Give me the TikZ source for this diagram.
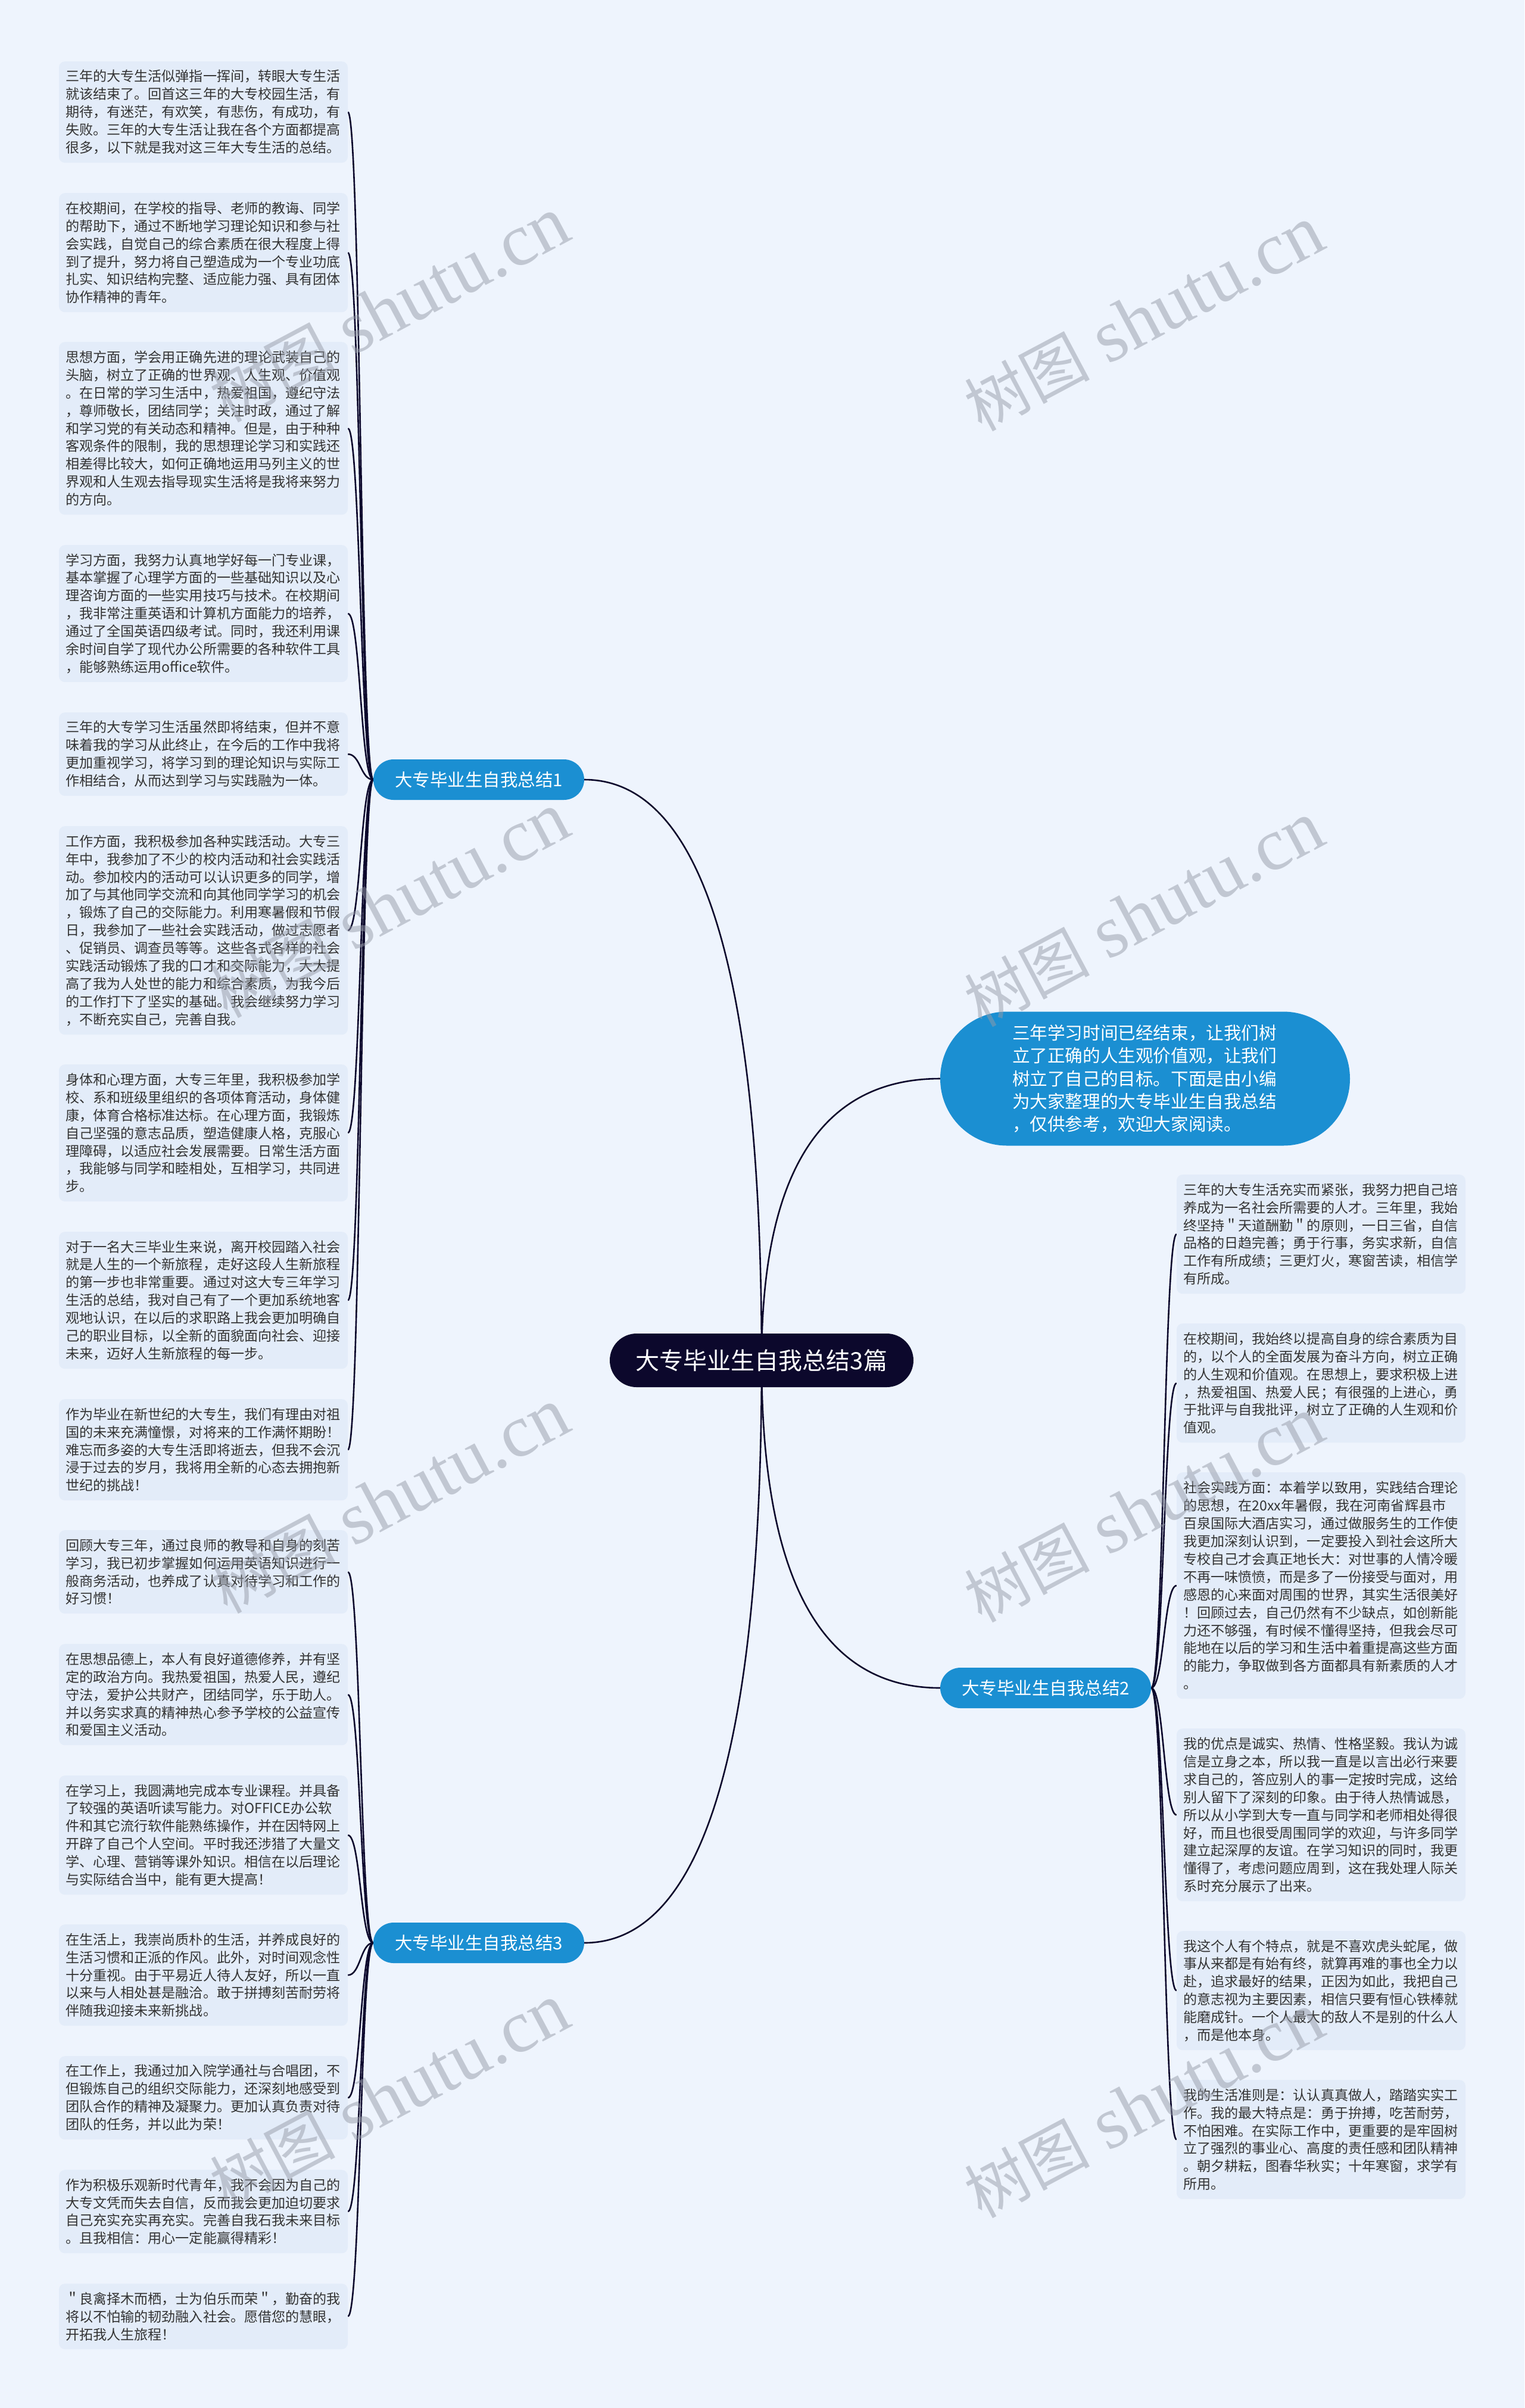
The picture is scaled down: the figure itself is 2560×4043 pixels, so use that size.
\documentclass[tikz,border=0pt]{standalone}
\usepackage{fontspec}
\setmainfont{Noto Sans CJK SC}
\newfontfamily\wmlat{Liberation Serif}
\usetikzlibrary{calc}
\pgfdeclarelayer{back}
\pgfdeclarelayer{lines}
\pgfsetlayers{back,lines,main}
\definecolor{pagebg}{RGB}{238,244,253}
\definecolor{boxbg}{RGB}{227,236,249}
\definecolor{txt}{RGB}{51,51,51}
\definecolor{blueone}{RGB}{27,143,210}
\definecolor{navy}{RGB}{12,8,44}
\definecolor{wmgray}{RGB}{150,156,168}
\tikzset{
  leaf/.style={fill=boxbg, rounded corners=10pt, text=txt, align=left,
    text width=463pt, inner xsep=11pt, inner ysep=0pt, anchor=north,
    font=\fontsize{23.1pt}{29.9pt}\selectfont},
  branchnode/.style={fill=blueone, text=white, rounded corners=34pt,
    minimum width=354pt, minimum height=68pt, inner sep=0pt,
    font=\fontsize{29.5pt}{36pt}\selectfont},
  rootnode/.style={fill=navy, text=white, rounded corners=45pt,
    minimum width=510pt, minimum height=90pt, inner sep=0pt,
    font=\fontsize{40pt}{48pt}\selectfont},
  intronode/.style={fill=blueone, text=white, rounded corners=112pt,
    minimum width=688pt, minimum height=225pt, inner sep=0pt,
    text width=446pt, align=left, font=\fontsize{29.6pt}{38.3pt}\selectfont},
  conn/.style={draw=navy, line width=2.6pt},
  wm/.style={rotate=28, text=wmgray, text opacity=0.5, inner sep=0pt, anchor=east}
}
\newcommand{\wmtext}{{\fontsize{105pt}{105pt}\selectfont 树图}\hspace{30pt}{\wmlat\fontsize{125pt}{125pt}\selectfont shutu.cn}}
\begin{document}
\begin{tikzpicture}[x=1pt,y=-1pt]
\begin{pgfonlayer}{back}
\fill[pagebg] (0,0) rectangle (2560,4043);
\end{pgfonlayer}
\useasboundingbox (0,0) rectangle (2560,4043);

% root and main branches
\node[rootnode] (root) at (1279,2284) {大专毕业生自我总结3篇};
\node[intronode] (intro) at (1923,1811) {三年学习时间已经结束，让我们树\\立了正确的人生观价值观，让我们\\树立了自己的目标。下面是由小编\\为大家整理的大专毕业生自我总结\\，仅供参考，欢迎大家阅读。};
\node[branchnode] (b1) at (804,1309) {大专毕业生自我总结1};
\node[branchnode] (b2) at (1756,2834) {大专毕业生自我总结2};
\node[branchnode] (b3) at (804,3262) {大专毕业生自我总结3};

% left column, branch 1
\node[leaf, minimum height=170pt] (l1) at (341.5,103) {三年的大专生活似弹指一挥间，转眼大专生活\\就该结束了。回首这三年的大专校园生活，有\\期待，有迷茫，有欢笑，有悲伤，有成功，有\\失败。三年的大专生活让我在各个方面都提高\\很多，以下就是我对这三年大专生活的总结。};
\node[leaf, minimum height=200pt] (l2) at (341.5,324) {在校期间，在学校的指导、老师的教诲、同学\\的帮助下，通过不断地学习理论知识和参与社\\会实践，自觉自己的综合素质在很大程度上得\\到了提升，努力将自己塑造成为一个专业功底\\扎实、知识结构完整、适应能力强、具有团体\\协作精神的青年。};
\node[leaf, minimum height=290pt] (l3) at (341.5,574) {思想方面，学会用正确先进的理论武装自己的\\头脑，树立了正确的世界观、人生观、价值观\\。在日常的学习生活中，热爱祖国，遵纪守法\\，尊师敬长，团结同学；关注时政，通过了解\\和学习党的有关动态和精神。但是，由于种种\\客观条件的限制，我的思想理论学习和实践还\\相差得比较大，如何正确地运用马列主义的世\\界观和人生观去指导现实生活将是我将来努力\\的方向。};
\node[leaf, minimum height=230pt] (l4) at (341.5,915) {学习方面，我努力认真地学好每一门专业课，\\基本掌握了心理学方面的一些基础知识以及心\\理咨询方面的一些实用技巧与技术。在校期间\\，我非常注重英语和计算机方面能力的培养，\\通过了全国英语四级考试。同时，我还利用课\\余时间自学了现代办公所需要的各种软件工具\\，能够熟练运用office软件。};
\node[leaf, minimum height=140pt] (l5) at (341.5,1196) {三年的大专学习生活虽然即将结束，但并不意\\味着我的学习从此终止，在今后的工作中我将\\更加重视学习，将学习到的理论知识与实际工\\作相结合，从而达到学习与实践融为一体。};
\node[leaf, minimum height=350pt] (l6) at (341.5,1387) {工作方面，我积极参加各种实践活动。大专三\\年中，我参加了不少的校内活动和社会实践活\\动。参加校内的活动可以认识更多的同学，增\\加了与其他同学交流和向其他同学学习的机会\\，锻炼了自己的交际能力。利用寒暑假和节假\\日，我参加了一些社会实践活动，做过志愿者\\、促销员、调查员等等。这些各式各样的社会\\实践活动锻炼了我的口才和交际能力，大大提\\高了我为人处世的能力和综合素质，为我今后\\的工作打下了坚实的基础。我会继续努力学习\\，不断充实自己，完善自我。};
\node[leaf, minimum height=230pt] (l7) at (341.5,1787) {身体和心理方面，大专三年里，我积极参加学\\校、系和班级里组织的各项体育活动，身体健\\康，体育合格标准达标。在心理方面，我锻炼\\自己坚强的意志品质，塑造健康人格，克服心\\理障碍，以适应社会发展需要。日常生活方面\\，我能够与同学和睦相处，互相学习，共同进\\步。};
\node[leaf, minimum height=230pt] (l8) at (341.5,2068) {对于一名大三毕业生来说，离开校园踏入社会\\就是人生的一个新旅程，走好这段人生新旅程\\的第一步也非常重要。通过对这大专三年学习\\生活的总结，我对自己有了一个更加系统地客\\观地认识，在以后的求职路上我会更加明确自\\己的职业目标，以全新的面貌面向社会、迎接\\未来，迈好人生新旅程的每一步。};
\node[leaf, minimum height=170pt] (l9) at (341.5,2349) {作为毕业在新世纪的大专生，我们有理由对祖\\国的未来充满憧憬，对将来的工作满怀期盼！\\难忘而多姿的大专生活即将逝去，但我不会沉\\浸于过去的岁月，我将用全新的心态去拥抱新\\世纪的挑战！};

% left column, branch 3
\node[leaf, minimum height=140pt] (l10) at (341.5,2569) {回顾大专三年，通过良师的教导和自身的刻苦\\学习，我已初步掌握如何运用英语知识进行一\\般商务活动，也养成了认真对待学习和工作的\\好习惯！};
\node[leaf, minimum height=170pt] (l11) at (341.5,2760) {在思想品德上，本人有良好道德修养，并有坚\\定的政治方向。我热爱祖国，热爱人民，遵纪\\守法，爱护公共财产，团结同学，乐于助人。\\并以务实求真的精神热心参予学校的公益宣传\\和爱国主义活动。};
\node[leaf, minimum height=200pt] (l12) at (341.5,2981) {在学习上，我圆满地完成本专业课程。并具备\\了较强的英语听读写能力。对OFFICE办公软\\件和其它流行软件能熟练操作，并在因特网上\\开辟了自己个人空间。平时我还涉猎了大量文\\学、心理、营销等课外知识。相信在以后理论\\与实际结合当中，能有更大提高！};
\node[leaf, minimum height=170pt] (l13) at (341.5,3231) {在生活上，我崇尚质朴的生活，并养成良好的\\生活习惯和正派的作风。此外，对时间观念性\\十分重视。由于平易近人待人友好，所以一直\\以来与人相处甚是融洽。敢于拼搏刻苦耐劳将\\伴随我迎接未来新挑战。};
\node[leaf, minimum height=140pt] (l14) at (341.5,3452) {在工作上，我通过加入院学通社与合唱团，不\\但锻炼自己的组织交际能力，还深刻地感受到\\团队合作的精神及凝聚力。更加认真负责对待\\团队的任务，并以此为荣！};
\node[leaf, minimum height=140pt] (l15) at (341.5,3643) {作为积极乐观新时代青年，我不会因为自己的\\大专文凭而失去自信，反而我会更加迫切要求\\自己充实充实再充实。完善自我石我未来目标\\。且我相信：用心一定能赢得精彩！};
\node[leaf, minimum height=110pt] (l16) at (341.5,3834) {＂良禽择木而栖，士为伯乐而荣＂，勤奋的我\\将以不怕输的韧劲融入社会。愿借您的慧眼，\\开拓我人生旅程！};

% right column, branch 2
\node[leaf, minimum height=200pt] (r1) at (2218.5,1972) {三年的大专生活充实而紧张，我努力把自己培\\养成为一名社会所需要的人才。三年里，我始\\终坚持＂天道酬勤＂的原则，一日三省，自信\\品格的日趋完善；勇于行事，务实求新，自信\\工作有所成绩；三更灯火，寒窗苦读，相信学\\有所成。};
\node[leaf, minimum height=200pt] (r2) at (2218.5,2222) {在校期间，我始终以提高自身的综合素质为目\\的，以个人的全面发展为奋斗方向，树立正确\\的人生观和价值观。在思想上，要求积极上进\\，热爱祖国、热爱人民；有很强的上进心，勇\\于批评与自我批评，树立了正确的人生观和价\\值观。};
\node[leaf, minimum height=380pt] (r3) at (2218.5,2472) {社会实践方面：本着学以致用，实践结合理论\\的思想，在20xx年暑假，我在河南省辉县市\\百泉国际大酒店实习，通过做服务生的工作使\\我更加深刻认识到，一定要投入到社会这所大\\专校自己才会真正地长大：对世事的人情冷暖\\不再一味愤愤，而是多了一份接受与面对，用\\感恩的心来面对周围的世界，其实生活很美好\\！回顾过去，自己仍然有不少缺点，如创新能\\力还不够强，有时候不懂得坚持，但我会尽可\\能地在以后的学习和生活中着重提高这些方面\\的能力，争取做到各方面都具有新素质的人才\\。};
\node[leaf, minimum height=290pt] (r4) at (2218.5,2902) {我的优点是诚实、热情、性格坚毅。我认为诚\\信是立身之本，所以我一直是以言出必行来要\\求自己的，答应别人的事一定按时完成，这给\\别人留下了深刻的印象。由于待人热情诚恳，\\所以从小学到大专一直与同学和老师相处得很\\好，而且也很受周围同学的欢迎，与许多同学\\建立起深厚的友谊。在学习知识的同时，我更\\懂得了，考虑问题应周到，这在我处理人际关\\系时充分展示了出来。};
\node[leaf, minimum height=200pt] (r5) at (2218.5,3242) {我这个人有个特点，就是不喜欢虎头蛇尾，做\\事从来都是有始有终，就算再难的事也全力以\\赴，追求最好的结果，正因为如此，我把自己\\的意志视为主要因素，相信只要有恒心铁棒就\\能磨成针。一个人最大的敌人不是别的什么人\\，而是他本身。};
\node[leaf, minimum height=200pt] (r6) at (2218.5,3492) {我的生活准则是：认认真真做人，踏踏实实工\\作。我的最大特点是：勇于拚搏，吃苦耐劳，\\不怕困难。在实际工作中，更重要的是牢固树\\立了强烈的事业心、高度的责任感和团队精神\\。朝夕耕耘，图春华秋实；十年寒窗，求学有\\所用。};

% connectors
\begin{pgfonlayer}{lines}
\draw[conn] (root.center) .. controls ($(root.center)!2/3!(root.center |- b1.east)$) and ($(b1.east)!2/3!(root.center |- b1.east)$) .. (b1.east);
\draw[conn] (root.center) .. controls ($(root.center)!2/3!(root.center |- intro.west)$) and ($(intro.west)!2/3!(root.center |- intro.west)$) .. (intro.west);
\draw[conn] (root.center) .. controls ($(root.center)!2/3!(root.center |- b2.west)$) and ($(b2.west)!2/3!(root.center |- b2.west)$) .. (b2.west);
\draw[conn] (root.center) .. controls ($(root.center)!2/3!(root.center |- b3.east)$) and ($(b3.east)!2/3!(root.center |- b3.east)$) .. (b3.east);
\foreach \i in {1,...,9} {
  \draw[conn] (b1.west) .. controls ($(b1.west)!0.5!(b1.west -| l\i.east)$) and ($(l\i.east)!0.5!(l\i.east -| b1.west)$) .. (l\i.east);
}
\foreach \i in {10,...,16} {
  \draw[conn] (b3.west) .. controls ($(b3.west)!0.5!(b3.west -| l\i.east)$) and ($(l\i.east)!0.5!(l\i.east -| b3.west)$) .. (l\i.east);
}
\foreach \i in {1,...,6} {
  \draw[conn] (b2.east) .. controls ($(b2.east)!0.5!(b2.east -| r\i.west)$) and ($(r\i.west)!0.5!(r\i.west -| b2.east)$) .. (r\i.west);
}
\end{pgfonlayer}

% watermarks
\node[wm] (w1) at (946,365) {\wmtext};
\node[wm] (w2) at (946,1365) {\wmtext};
\node[wm] (w3) at (946,2365) {\wmtext};
\node[wm] (w4) at (946,3365) {\wmtext};
\node[wm] (w5) at (2213,380) {\wmtext};
\node[wm] (w6) at (2213,1380) {\wmtext};
\node[wm] (w7) at (2213,2380) {\wmtext};
\node[wm] (w8) at (2213,3380) {\wmtext};
\end{tikzpicture}
\end{document}
